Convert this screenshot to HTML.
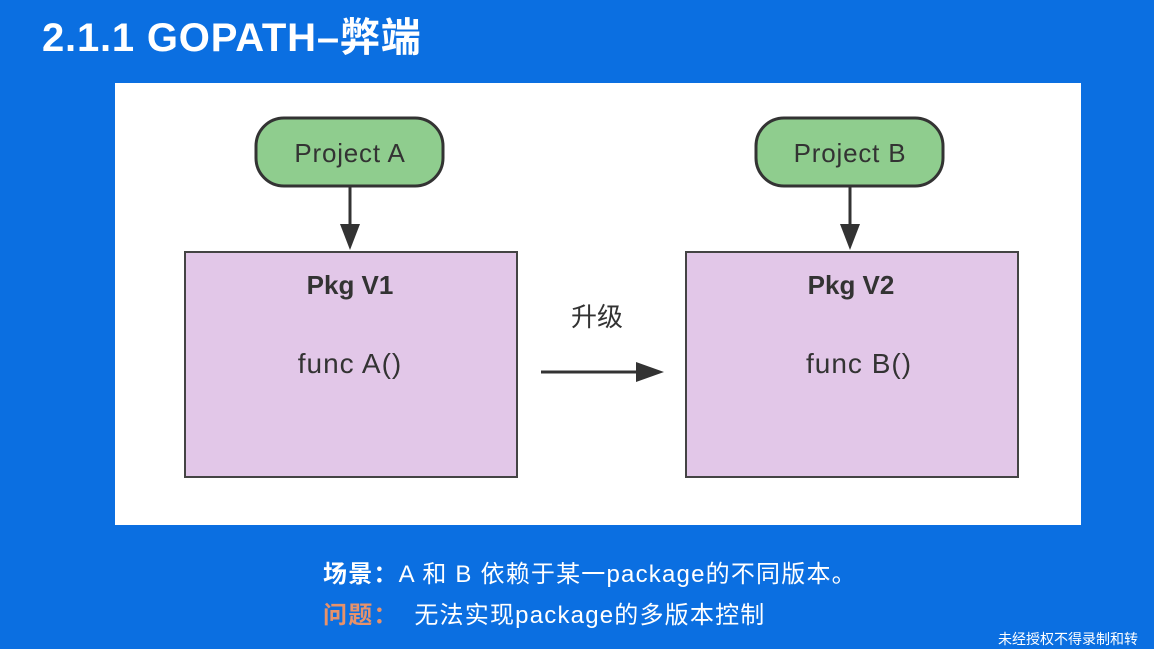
<!DOCTYPE html>
<html><head><meta charset="utf-8"><style>
html,body{margin:0;padding:0}
body{width:1154px;height:649px;background:#0b6fe1;position:relative;overflow:hidden;font-family:"Liberation Sans","Noto Sans CJK SC",sans-serif}
.t{position:absolute;white-space:nowrap}
</style></head><body>
<div class="t" style="left:42px;top:5px;font-size:40px;font-weight:bold;color:#fff;letter-spacing:0.8px">2.1.1 GOPATH–弊端</div>
<div style="position:absolute;left:115px;top:83px;width:966px;height:442px;background:#fff"></div>
<svg width="1154" height="649" style="position:absolute;left:0;top:0" font-family="Liberation Sans, Noto Sans CJK SC, sans-serif">
<rect x="256" y="118" width="187" height="68" rx="28" fill="#8fcd8e" stroke="#333" stroke-width="3"/>
<rect x="756" y="118" width="187" height="68" rx="28" fill="#8fcd8e" stroke="#333" stroke-width="3"/>
<text x="350" y="162" font-size="26" fill="#333" text-anchor="middle" letter-spacing="0.8">Project A</text>
<text x="850" y="162" font-size="26" fill="#333" text-anchor="middle" letter-spacing="0.8">Project B</text>
<line x1="350" y1="187" x2="350" y2="230" stroke="#333" stroke-width="3"/>
<polygon points="340,224 360,224 350,250" fill="#333"/>
<line x1="850" y1="187" x2="850" y2="230" stroke="#333" stroke-width="3"/>
<polygon points="840,224 860,224 850,250" fill="#333"/>
<rect x="185" y="252" width="332" height="225" fill="#e2c7e8" stroke="#444" stroke-width="2"/>
<rect x="686" y="252" width="332" height="225" fill="#e2c7e8" stroke="#444" stroke-width="2"/>
<text x="350" y="294" font-size="26" font-weight="bold" fill="#333" text-anchor="middle">Pkg V1</text>
<text x="851" y="294" font-size="26" font-weight="bold" fill="#333" text-anchor="middle">Pkg V2</text>
<text x="350" y="373" font-size="28" fill="#333" text-anchor="middle" letter-spacing="1">func A()</text>
<text x="859" y="373" font-size="28" fill="#333" text-anchor="middle" letter-spacing="1">func B()</text>
<text x="597" y="326" font-size="26" fill="#333" text-anchor="middle">升级</text>
<line x1="541" y1="372" x2="645" y2="372" stroke="#333" stroke-width="3"/>
<polygon points="636,362 664,372 636,382" fill="#333"/>
</svg>
<div class="t" style="left:323px;top:554px;font-size:24px;color:#fff;letter-spacing:1.2px"><b>场景：</b>A 和 B 依赖于某一package的不同版本。</div>
<div class="t" style="left:323px;top:595px;font-size:24px;color:#fff;letter-spacing:1.2px"><b style="color:#e8926a">问题：</b>&nbsp;&nbsp;无法实现package的多版本控制</div>
<div class="t" style="left:998px;top:629px;font-size:14px;color:#fff">未经授权不得录制和转</div>
</body></html>
